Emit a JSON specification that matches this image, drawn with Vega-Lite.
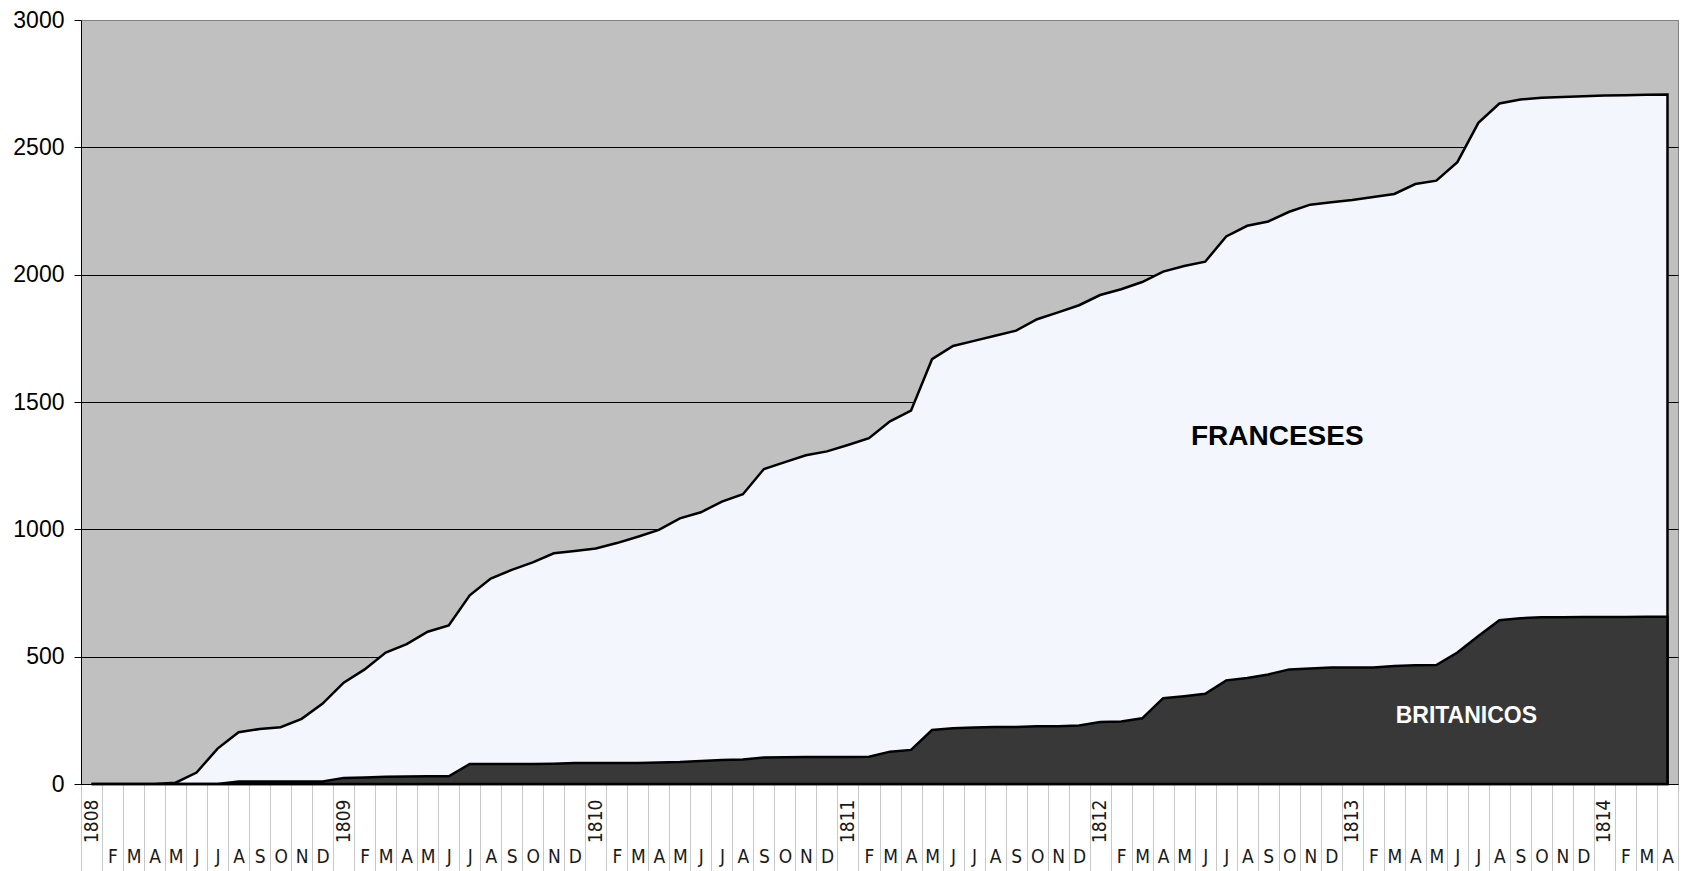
{
  "$schema": "https://vega.github.io/schema/vega-lite/v6.json",
  "width": 1597,
  "height": 764,
  "autosize": {"type": "none"},
  "padding": {"left": 81, "top": 20, "right": 7, "bottom": 87},
  "background": "white",
  "config": {
    "view": {"fill": "#c0c0c0", "stroke": "#808080", "strokeWidth": 1},
    "font": "Liberation Sans",
    "axisY": {
      "grid": true,
      "gridColor": {"condition": {"test": "datum.value == 3000", "value": "#808080"}, "value": "#000000"},
      "gridWidth": 1,
      "gridOpacity": 1,
      "tickSize": 7,
      "tickColor": "#000000",
      "domainColor": "#000000",
      "labelFont": "Liberation Sans",
      "labelFontSize": 23,
      "labelPadding": 10,
      "labelColor": "#000000",
      "format": "d",
      "title": null
    }
  },
  "datasets": {
    "serie": [
      {"fecha": "1808-01", "total": 0, "britanicos": 0},
      {"fecha": "1808-02", "total": 0, "britanicos": 0},
      {"fecha": "1808-03", "total": 0, "britanicos": 0},
      {"fecha": "1808-04", "total": 0, "britanicos": 0},
      {"fecha": "1808-05", "total": 5, "britanicos": 0},
      {"fecha": "1808-06", "total": 45, "britanicos": 0},
      {"fecha": "1808-07", "total": 139, "britanicos": 0},
      {"fecha": "1808-08", "total": 203, "britanicos": 10},
      {"fecha": "1808-09", "total": 216, "britanicos": 10},
      {"fecha": "1808-10", "total": 223, "britanicos": 10},
      {"fecha": "1808-11", "total": 256, "britanicos": 10},
      {"fecha": "1808-12", "total": 316, "britanicos": 10},
      {"fecha": "1809-01", "total": 398, "britanicos": 24},
      {"fecha": "1809-02", "total": 450, "britanicos": 26},
      {"fecha": "1809-03", "total": 516, "britanicos": 28},
      {"fecha": "1809-04", "total": 549, "britanicos": 29},
      {"fecha": "1809-05", "total": 598, "britanicos": 30},
      {"fecha": "1809-06", "total": 623, "britanicos": 30},
      {"fecha": "1809-07", "total": 741, "britanicos": 79},
      {"fecha": "1809-08", "total": 807, "britanicos": 79},
      {"fecha": "1809-09", "total": 841, "britanicos": 79},
      {"fecha": "1809-10", "total": 870, "britanicos": 79},
      {"fecha": "1809-11", "total": 906, "britanicos": 80},
      {"fecha": "1809-12", "total": 915, "britanicos": 82},
      {"fecha": "1810-01", "total": 925, "britanicos": 82},
      {"fecha": "1810-02", "total": 946, "britanicos": 82},
      {"fecha": "1810-03", "total": 971, "britanicos": 82},
      {"fecha": "1810-04", "total": 998, "britanicos": 84},
      {"fecha": "1810-05", "total": 1043, "britanicos": 86},
      {"fecha": "1810-06", "total": 1067, "britanicos": 90},
      {"fecha": "1810-07", "total": 1109, "britanicos": 94},
      {"fecha": "1810-08", "total": 1138, "britanicos": 96},
      {"fecha": "1810-09", "total": 1237, "britanicos": 104},
      {"fecha": "1810-10", "total": 1264, "britanicos": 105},
      {"fecha": "1810-11", "total": 1291, "britanicos": 106},
      {"fecha": "1810-12", "total": 1306, "britanicos": 106},
      {"fecha": "1811-01", "total": 1331, "britanicos": 106},
      {"fecha": "1811-02", "total": 1358, "britanicos": 107},
      {"fecha": "1811-03", "total": 1424, "britanicos": 127},
      {"fecha": "1811-04", "total": 1466, "britanicos": 134},
      {"fecha": "1811-05", "total": 1668, "britanicos": 212},
      {"fecha": "1811-06", "total": 1720, "britanicos": 219},
      {"fecha": "1811-07", "total": 1740, "britanicos": 222},
      {"fecha": "1811-08", "total": 1760, "britanicos": 224},
      {"fecha": "1811-09", "total": 1780, "britanicos": 224},
      {"fecha": "1811-10", "total": 1825, "britanicos": 227},
      {"fecha": "1811-11", "total": 1852, "britanicos": 227},
      {"fecha": "1811-12", "total": 1880, "britanicos": 230},
      {"fecha": "1812-01", "total": 1920, "britanicos": 243},
      {"fecha": "1812-02", "total": 1943, "britanicos": 245},
      {"fecha": "1812-03", "total": 1971, "britanicos": 258},
      {"fecha": "1812-04", "total": 2012, "britanicos": 337},
      {"fecha": "1812-05", "total": 2034, "britanicos": 345},
      {"fecha": "1812-06", "total": 2051, "britanicos": 354},
      {"fecha": "1812-07", "total": 2150, "britanicos": 407},
      {"fecha": "1812-08", "total": 2192, "britanicos": 416},
      {"fecha": "1812-09", "total": 2209, "britanicos": 430},
      {"fecha": "1812-10", "total": 2247, "britanicos": 450},
      {"fecha": "1812-11", "total": 2275, "britanicos": 454},
      {"fecha": "1812-12", "total": 2284, "britanicos": 457},
      {"fecha": "1813-01", "total": 2293, "britanicos": 457},
      {"fecha": "1813-02", "total": 2305, "britanicos": 457},
      {"fecha": "1813-03", "total": 2317, "britanicos": 463},
      {"fecha": "1813-04", "total": 2356, "britanicos": 466},
      {"fecha": "1813-05", "total": 2369, "britanicos": 467},
      {"fecha": "1813-06", "total": 2442, "britanicos": 516},
      {"fecha": "1813-07", "total": 2596, "britanicos": 581},
      {"fecha": "1813-08", "total": 2672, "britanicos": 643},
      {"fecha": "1813-09", "total": 2688, "britanicos": 651},
      {"fecha": "1813-10", "total": 2695, "britanicos": 655},
      {"fecha": "1813-11", "total": 2698, "britanicos": 655},
      {"fecha": "1813-12", "total": 2701, "britanicos": 656},
      {"fecha": "1814-01", "total": 2704, "britanicos": 656},
      {"fecha": "1814-02", "total": 2705, "britanicos": 656},
      {"fecha": "1814-03", "total": 2706, "britanicos": 657},
      {"fecha": "1814-04", "total": 2707, "britanicos": 657}
    ],
    "rotulos": [
      {"fecha": "1812-09", "valor": 1332, "texto": "FRANCESES", "grupo": "fr"},
      {"fecha": "1813-06", "valor": 240, "texto": "BRITANICOS", "grupo": "br"}
    ]
  },
  "layer": [
    {
      "data": {"name": "serie"},
      "mark": {"type": "area", "fill": "#f4f6fe", "fillOpacity": 1, "stroke": "#000000", "strokeWidth": 2.5},
      "encoding": {
        "x": {
          "field": "fecha",
          "type": "ordinal",
          "bandPosition": 0.5,
          "scale": {"type": "band", "paddingInner": 0, "paddingOuter": 0},
          "axis": {
            "orient": "bottom",
            "title": null,
            "grid": false,
            "tickBand": "extent",
            "tickSize": 87,
            "tickColor": "#c8c8c8",
            "tickWidth": 1,
            "domainColor": "#000000",
            "domainWidth": 1,
            "labelExpr": "substring(datum.value, 5, 7) == '01' ? '' : ['J','F','M','A','M','J','J','A','S','O','N','D'][toNumber(substring(datum.value, 5, 7)) - 1]",
            "labelAngle": 0,
            "labelAlign": "center",
            "labelBaseline": "alphabetic",
            "labelPadding": -9,
            "labelFont": "Liberation Sans Narrow, DejaVu Sans Condensed, sans-serif",
            "labelFontSize": 19,
            "labelColor": "#1a1a1a",
            "labelOverlap": false,
            "labelBound": false
          }
        },
        "y": {
          "field": "total",
          "type": "quantitative",
          "scale": {"domain": [0, 3000], "nice": false, "zero": true},
          "axis": {"values": [0, 500, 1000, 1500, 2000, 2500, 3000], "title": null}
        }
      }
    },
    {
      "data": {"name": "serie"},
      "mark": {"type": "area", "fill": "#383838", "fillOpacity": 1, "stroke": "#000000", "strokeWidth": 2.5},
      "encoding": {
        "x": {
          "field": "fecha",
          "type": "ordinal",
          "bandPosition": 0.5,
          "axis": {
            "orient": "bottom",
            "title": null,
            "grid": false,
            "ticks": false,
            "domain": false,
            "labelExpr": "substring(datum.value, 5, 7) == '01' ? substring(datum.value, 0, 4) : ''",
            "labelAngle": -90,
            "labelAlign": "right",
            "labelBaseline": "middle",
            "labelPadding": 15,
            "labelFont": "Liberation Sans Narrow, DejaVu Sans Condensed, sans-serif",
            "labelFontSize": 19,
            "labelColor": "#1a1a1a",
            "labelOverlap": false,
            "labelBound": false
          }
        },
        "y": {
          "field": "britanicos",
          "type": "quantitative",
          "axis": {"title": null}
        }
      }
    },
    {
      "data": {"name": "rotulos"},
      "transform": [{"filter": "datum.grupo == 'fr'"}],
      "mark": {"type": "text", "font": "Liberation Sans", "fontWeight": "bold", "fontSize": 28, "color": "#000000", "align": "center", "baseline": "alphabetic", "dx": 9},
      "encoding": {
        "x": {"field": "fecha", "type": "ordinal", "bandPosition": 0.5, "axis": null},
        "y": {"field": "valor", "type": "quantitative", "axis": {"title": null}},
        "text": {"field": "texto"}
      }
    },
    {
      "data": {"name": "rotulos"},
      "transform": [{"filter": "datum.grupo == 'br'"}],
      "mark": {"type": "text", "font": "Liberation Sans", "fontWeight": "bold", "fontSize": 23, "color": "#ffffff", "align": "center", "baseline": "alphabetic", "dx": 9},
      "encoding": {
        "x": {"field": "fecha", "type": "ordinal", "bandPosition": 0.5, "axis": null},
        "y": {"field": "valor", "type": "quantitative", "axis": {"title": null}},
        "text": {"field": "texto"}
      }
    }
  ],
  "resolve": {"axis": {"x": "independent"}}
}
